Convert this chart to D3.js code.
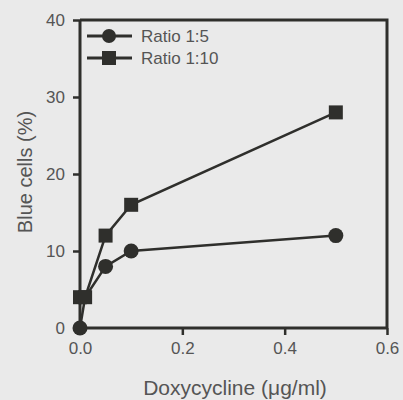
<!DOCTYPE html>
<html>
<head>
<meta charset="utf-8">
<script src="https://cdn.jsdelivr.net/npm/d3@7"></script>
<style>
  body { margin: 0; background: #eaeaea; }
  text { font-family: "Liberation Sans", Arial, sans-serif; fill: #555; }
</style>
</head>
<body>
<div id="chart"></div>
<script>
var doses = [0, 0.01, 0.05, 0.1, 0.5];
var ratio15 = [0, 4, 8, 10, 12];
var ratio110 = [4, 4, 12, 16, 28];
var seriesNames = ["Ratio 1:5", "Ratio 1:10"];
var xTicks = [0, 0.2, 0.4, 0.6];
var yTicks = [0, 10, 20, 30, 40];

var width = 403, height = 400;
var ink = "#2f2f2c";

var svg = d3.select("#chart").append("svg")
    .attr("width", width)
    .attr("height", height)

var x = d3.scaleLinear().domain([0, 0.6]).range([80, 387])
var y = d3.scaleLinear().domain([0, 40]).range([328, 20])

// frame (top and right)
svg.append("path")
    .attr("d", "M" + x(0) + "," + y(40) + "H" + x(0.6) + "V" + y(0))
    .attr("fill", "none")
    .attr("stroke", ink)
    .attr("stroke-width", 3)

var xAxis = svg.append("g")
    .attr("transform", "translate(0," + y(0) + ")")
    .call(d3.axisBottom(x).tickValues(xTicks).tickFormat(d3.format(".1f")).tickSize(7).tickPadding(7))
var yAxis = svg.append("g")
    .attr("transform", "translate(" + x(0) + ",0)")
    .call(d3.axisLeft(y).tickValues(yTicks).tickSize(7).tickPadding(8))

svg.selectAll(".domain").attr("stroke", ink).attr("stroke-width", 3)
svg.selectAll(".tick line").attr("stroke", ink).attr("stroke-width", 2.5)
svg.selectAll(".tick text").style("font-size", "17px").attr("fill", "#5a5a5a")
yAxis.selectAll(".domain").attr("d", "M0," + y(0) + "V" + y(40))
xAxis.selectAll(".domain").attr("d", "M" + x(0) + ",0H" + x(0.6))

var line = d3.line()
    .x(function(d){ return x(d[0]) })
    .y(function(d){ return y(d[1]) })

var sq = doses.map(function(d, i){ return [d, ratio110[i]] })
var ci = doses.map(function(d, i){ return [d, ratio15[i]] })

svg.append("path").datum(sq).attr("d", line)
    .attr("fill", "none").attr("stroke", ink).attr("stroke-width", 2.5)
svg.append("path").datum(ci).attr("d", line)
    .attr("fill", "none").attr("stroke", ink).attr("stroke-width", 2.5)

svg.selectAll(".sq").data(sq).enter().append("rect")
    .attr("class", "sq")
    .attr("x", function(d){ return x(d[0]) - 7 })
    .attr("y", function(d){ return y(d[1]) - 7 })
    .attr("width", 14).attr("height", 14)
    .attr("fill", ink)

// the 0.01 circle sits under the squares
svg.selectAll(".ci").data(ci.filter(function(d){ return d[0] != 0.01 })).enter().append("circle")
    .attr("class", "ci")
    .attr("cx", function(d){ return x(d[0]) })
    .attr("cy", function(d){ return y(d[1]) })
    .attr("r", 7.5)
    .attr("fill", ink)

// legend
var legend = svg.append("g")
seriesNames.forEach(function(name, i){
    var ly = 36 + i * 22
    legend.append("line").attr("x1", 87).attr("x2", 132).attr("y1", ly).attr("y2", ly)
        .attr("stroke", ink).attr("stroke-width", 3)
    if (i == 0) {
        legend.append("circle").attr("cx", 109).attr("cy", ly).attr("r", 7).attr("fill", ink)
    } else {
        legend.append("rect").attr("x", 102).attr("y", ly - 7).attr("width", 14).attr("height", 14).attr("fill", ink)
    }
    legend.append("text").attr("x", 141).attr("y", ly + 6).text(name)
        .style("font-size", "17px")
})

svg.append("text")
    .attr("transform", "translate(32,172) rotate(-90)")
    .attr("text-anchor", "middle")
    .style("font-size", "20px")
    .text("Blue cells (%)")

svg.append("text")
    .attr("x", 235).attr("y", 395)
    .attr("text-anchor", "middle")
    .style("font-size", "21px")
    .text("Doxycycline (\u03bcg/ml)")
</script>
</body>
</html>
